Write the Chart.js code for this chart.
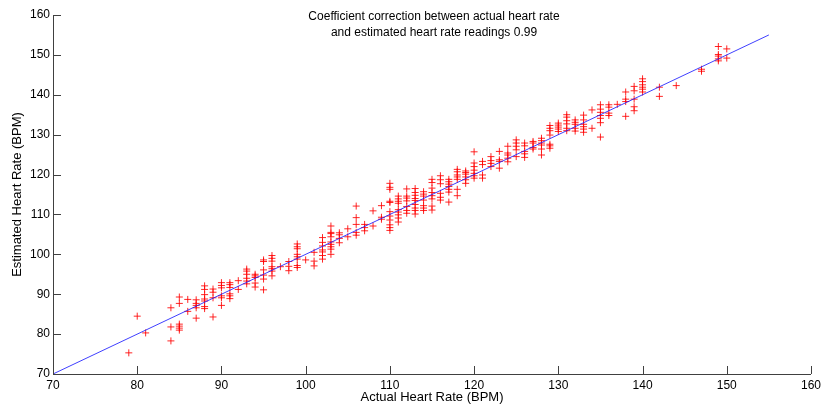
<!DOCTYPE html>
<html>
<head>
<meta charset="utf-8">
<title>Heart rate correlation</title>
<script src="https://cdn.jsdelivr.net/npm/chart.js@4"></script>
<style>
  html, body { margin: 0; padding: 0; background: #fff; }
  canvas { display: block; }
</style>
</head>
<body>
<canvas id="hrChart" width="825" height="407"></canvas>
<script>
// actual heart rate columns (BPM) and the estimated readings found at each one
const actualHR = [79, 80, 81, 84, 85, 86, 87, 88, 89, 90, 91, 92, 93, 94, 95, 96, 97, 98, 99, 100,
  101, 102, 103, 104, 105, 106, 107, 108, 109, 110, 111, 112, 113, 114, 115, 116, 117, 118, 119, 120,
  121, 122, 123, 124, 125, 126, 127, 128, 129, 130, 131, 132, 133, 134, 135, 136, 137, 138, 139, 140,
  142, 144, 147, 149, 150];
const estimatedHR = [
  [75.3], [84.5], [80.3],
  [86.6, 81.8, 78.3],
  [89.3, 87.7, 82.5, 82.0, 81.5, 81.0],
  [88.7, 85.7],
  [88.6, 87.7, 87.2, 86.6, 84.0],
  [92.1, 91.2, 89.9, 88.8, 88.3, 86.9, 86.4],
  [91.3, 90.5, 89.1, 84.3],
  [92.9, 92.2, 91.6, 89.6, 89.1, 87.2],
  [92.9, 92.4, 91.7, 90.1, 89.6, 88.9],
  [93.4, 91.2],
  [96.3, 95.8, 95.0, 94.0, 93.3, 92.6],
  [95.0, 94.6, 94.2, 92.8, 91.8],
  [98.6, 98.2, 96.1, 94.8, 93.8, 91.1],
  [99.7, 99.0, 98.3, 96.9, 96.4, 95.8, 94.6],
  [96.9],
  [98.2, 97.0, 95.9],
  [102.6, 101.9, 101.4, 100.0, 99.4, 98.8, 97.2, 96.7],
  [98.6],
  [100.5, 98.3, 97.1],
  [104.2, 103.0, 102.1, 101.1, 100.6, 99.7, 98.8],
  [107.1, 105.5, 105.2, 104.4, 103.1, 102.5, 101.9, 101.3, 100.0],
  [105.4, 104.9, 104.0, 102.9],
  [106.4, 104.4],
  [112.1, 109.2, 107.5, 105.5, 104.8],
  [107.5, 106.7, 105.9],
  [110.9, 107.1],
  [112.2, 109.3, 108.8],
  [117.8, 116.8, 116.3, 113.3, 113.0, 110.7, 109.6, 108.6, 107.4, 106.7, 106.0],
  [114.6, 113.9, 113.3, 112.8, 111.2, 110.6, 109.9, 109.1, 108.1],
  [116.4, 114.6, 114.1, 113.4, 112.0, 111.0, 110.3],
  [116.5, 115.5, 114.8, 114.0, 113.5, 112.5, 111.6, 111.0, 110.1],
  [115.7, 115.1, 114.6, 113.6, 112.2, 111.6, 111.0],
  [118.8, 118.0, 116.6, 115.5, 114.7, 113.9, 112.1, 111.1],
  [119.7, 118.7, 117.7, 115.3, 114.3, 113.6],
  [118.8, 118.2, 117.6, 117.0, 116.3, 115.6, 113.1],
  [121.3, 120.7, 119.9, 119.4, 118.8, 116.3, 114.7],
  [120.9, 120.5, 120.1, 119.4, 118.7, 117.8],
  [125.7, 122.9, 122.0, 121.1, 120.3, 119.7, 119.1],
  [123.3, 122.5, 119.9, 119.1],
  [124.5, 123.5, 122.8, 122.0],
  [125.8, 123.7, 123.3, 121.6],
  [127.1, 125.4, 124.9, 124.1, 123.2],
  [128.7, 127.9, 127.1, 126.2, 124.5],
  [127.9, 127.2, 125.8, 125.2, 124.3],
  [128.3, 127.9, 126.8, 126.4],
  [129.1, 128.5, 127.9, 127.4, 126.4, 124.9],
  [132.3, 131.6, 131.0, 129.9, 127.6, 127.2, 126.6],
  [132.9, 132.4, 131.9, 131.4, 130.8],
  [135.0, 134.4, 133.5, 132.7, 131.6, 131.0],
  [133.7, 133.1, 132.6, 131.6, 130.9],
  [134.9, 133.7, 132.6, 132.0, 131.4, 130.6],
  [136.2, 131.6],
  [137.5, 136.4, 135.6, 134.8, 134.1, 133.0, 129.4],
  [137.5, 136.9, 135.4, 134.8],
  [137.6],
  [140.7, 138.9, 138.3, 134.6],
  [142.1, 141.0, 138.9, 137.0, 136.0],
  [144.0, 143.3, 142.5, 141.9, 141.4, 140.7],
  [141.9, 139.6],
  [142.3],
  [146.4, 145.9],
  [152.1, 150.1, 149.7, 149.0, 148.5],
  [151.5, 149.2]
];
// identity reference line
const fitX = [70, 155];
const fitY = [70, 155];
const tickValues = [70, 80, 90, 100, 110, 120, 130, 140, 150, 160];
const titleLines = [
  "Coefficient correction between actual heart rate",
  "and estimated heart rate readings 0.99"
];

const scatterPoints = [];
actualHR.forEach((x, i) => {
  estimatedHR[i].forEach((y) => scatterPoints.push({ x: x, y: y }));
});
const fitPoints = fitX.map((x, i) => ({ x: x, y: fitY[i] }));

const FONT = "'Liberation Sans', Arial, Helvetica, sans-serif";
const AXIS_COLOR = "#404040";

// MATLAB style ticks pointing into the plot
const inwardTicks = {
  id: "inwardTicks",
  afterDraw(chart) {
    const ctx = chart.ctx;
    const xs = chart.scales.x;
    const ys = chart.scales.y;
    const len = 8;
    ctx.save();
    ctx.strokeStyle = AXIS_COLOR;
    ctx.lineWidth = 1;
    ctx.beginPath();
    xs.ticks.forEach((t) => {
      const px = Math.round(xs.getPixelForValue(t.value)) + 0.5;
      ctx.moveTo(px, ys.bottom);
      ctx.lineTo(px, ys.bottom - len);
    });
    ys.ticks.forEach((t) => {
      const py = Math.round(ys.getPixelForValue(t.value)) + 0.5;
      ctx.moveTo(xs.left, py);
      ctx.lineTo(xs.left + len, py);
    });
    ctx.stroke();
    ctx.restore();
  }
};

// two line title sitting inside the plot
const innerTitle = {
  id: "innerTitle",
  afterDraw(chart) {
    const ctx = chart.ctx;
    const area = chart.chartArea;
    const cx = (area.left + area.right) / 2 + 2;
    ctx.save();
    ctx.fillStyle = "#000";
    ctx.font = "12px " + FONT;
    ctx.textAlign = "center";
    ctx.textBaseline = "middle";
    titleLines.forEach((line, i) => {
      ctx.fillText(line, cx, area.top + 2 + i * 16);
    });
    ctx.restore();
  }
};

new Chart(document.getElementById("hrChart"), {
  type: "scatter",
  data: {
    datasets: [
      {
        type: "line",
        data: fitPoints,
        borderColor: "rgba(30,30,255,0.85)",
        borderWidth: 1,
        pointRadius: 0,
        fill: false
      },
      {
        data: scatterPoints,
        pointStyle: "cross",
        pointRadius: 3.5,
        pointHoverRadius: 3.5,
        borderColor: "rgba(255,0,0,0.85)",
        borderWidth: 1
      }
    ]
  },
  options: {
    responsive: false,
    animation: false,
    layout: {
      padding: { top: 15, right: 12, left: 0, bottom: 0 }
    },
    plugins: {
      legend: { display: false },
      tooltip: { enabled: false }
    },
    scales: {
      x: {
        type: "linear",
        min: 70,
        max: 160,
        afterBuildTicks: (scale) => {
          scale.ticks = tickValues.map((v) => ({ value: v }));
        },
        afterFit: (scale) => {
          scale.height = 33;
        },
        grid: { display: true, drawOnChartArea: false, drawTicks: false },
        border: { display: true, color: AXIS_COLOR, width: 1 },
        ticks: {
          padding: 4,
          color: "#000",
          maxRotation: 0,
          font: { size: 12, family: FONT }
        },
        title: {
          display: true,
          text: "Actual Heart Rate (BPM)",
          color: "#000",
          padding: { top: 0, bottom: 2 },
          font: { size: 13, family: FONT }
        }
      },
      y: {
        type: "linear",
        min: 70,
        max: 160,
        afterBuildTicks: (scale) => {
          scale.ticks = tickValues.map((v) => ({ value: v }));
        },
        afterFit: (scale) => {
          scale.width = 53;
        },
        grid: { display: true, drawOnChartArea: false, drawTicks: false },
        border: { display: true, color: AXIS_COLOR, width: 1 },
        ticks: {
          padding: 3,
          color: "#000",
          font: { size: 12, family: FONT }
        },
        title: {
          display: true,
          text: "Estimated Heart Rate (BPM)",
          color: "#000",
          padding: { top: 10, bottom: 0 },
          font: { size: 13, family: FONT }
        }
      }
    }
  },
  plugins: [inwardTicks, innerTitle]
});
</script>
</body>
</html>
